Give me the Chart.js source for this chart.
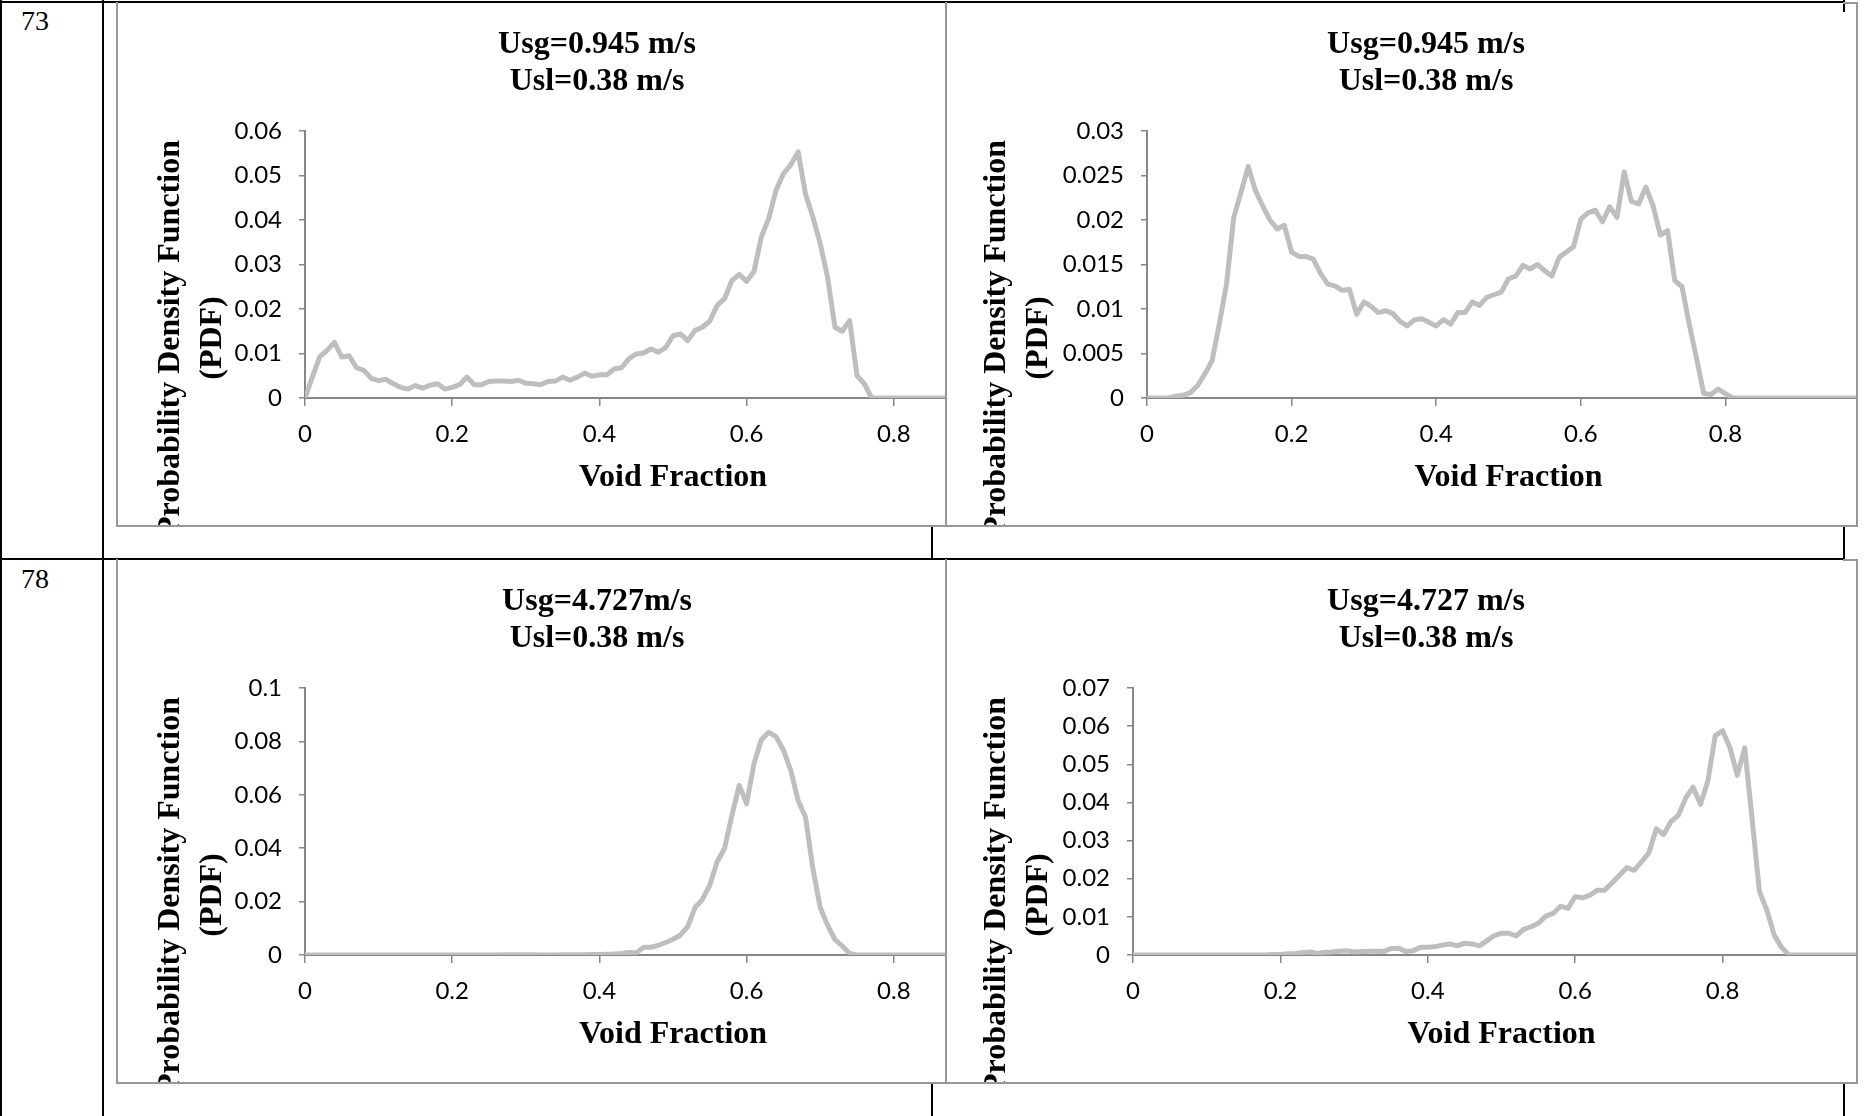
<!DOCTYPE html>
<html>
<head>
<meta charset="utf-8">
<script src="https://cdn.jsdelivr.net/npm/chart.js@4.4.1/dist/chart.umd.min.js"></script>
<style>
  html, body { margin: 0; padding: 0; background: #fff; }
  #page { position: relative; width: 1866px; height: 1116px; overflow: hidden; background: #fff; }
  .ln { position: absolute; background: #000; }
  .gl { position: absolute; background: #989898; z-index: 5; }
  .panel { position: absolute; overflow: hidden; }
  .rowno { position: absolute; font: 28px/28px "Liberation Serif", serif; color: #000; }
</style>
</head>
<body>
<div id="page">
  <!-- table rules -->
  <div class="ln" style="left:0;top:1px;width:1845px;height:2px"></div>
  <div class="ln" style="left:0;top:0;width:2px;height:1116px"></div>
  <div class="ln" style="left:102px;top:0;width:2px;height:1116px"></div>
  <div class="ln" style="left:0;top:558px;width:1845px;height:2px"></div>
  <div class="ln" style="left:931px;top:526px;width:2px;height:34px"></div>
  <div class="ln" style="left:931px;top:1083px;width:2px;height:33px"></div>
  <div class="ln" style="left:1843px;top:0;width:2px;height:12px"></div>
  <div class="ln" style="left:1843px;top:526px;width:2px;height:34px"></div>
  <div class="ln" style="left:1843px;top:1083px;width:2px;height:33px"></div>

  <div class="rowno" style="left:21px;top:7px">73</div>
  <div class="rowno" style="left:21px;top:565px">78</div>

  <div class="panel" style="left:117px;top:3px;width:829px;height:523px"><canvas id="chartA" width="960" height="523"></canvas></div>
  <div class="panel" style="left:946px;top:3px;width:911px;height:523px"><canvas id="chartB" width="960" height="523"></canvas></div>
  <div class="panel" style="left:117px;top:560px;width:829px;height:523px"><canvas id="chartC" width="960" height="523"></canvas></div>
  <div class="panel" style="left:946px;top:560px;width:911px;height:523px"><canvas id="chartD" width="960" height="523"></canvas></div>

  <!-- chart frames -->
  <div class="gl" style="left:116px;top:2px;width:2px;height:525px"></div>
  <div class="gl" style="left:945px;top:2px;width:2px;height:525px"></div>
  <div class="gl" style="left:1856px;top:2px;width:2px;height:525px"></div>
  <div class="gl" style="left:1843px;top:2px;width:15px;height:2px"></div>
  <div class="gl" style="left:116px;top:525px;width:1742px;height:2px"></div>
  <div class="gl" style="left:116px;top:559px;width:2px;height:525px"></div>
  <div class="gl" style="left:945px;top:559px;width:2px;height:525px"></div>
  <div class="gl" style="left:1856px;top:559px;width:2px;height:525px"></div>
  <div class="gl" style="left:1843px;top:559px;width:15px;height:2px"></div>
  <div class="gl" style="left:116px;top:1082px;width:1742px;height:2px"></div>
</div>

<script>
// void fraction bins (x)
const voidFraction = [
  0, 0.01, 0.02, 0.03, 0.04, 0.05, 0.06, 0.07, 0.08, 0.09,
  0.1, 0.11, 0.12, 0.13, 0.14, 0.15, 0.16, 0.17, 0.18, 0.19,
  0.2, 0.21, 0.22, 0.23, 0.24, 0.25, 0.26, 0.27, 0.28, 0.29,
  0.3, 0.31, 0.32, 0.33, 0.34, 0.35, 0.36, 0.37, 0.38, 0.39,
  0.4, 0.41, 0.42, 0.43, 0.44, 0.45, 0.46, 0.47, 0.48, 0.49,
  0.5, 0.51, 0.52, 0.53, 0.54, 0.55, 0.56, 0.57, 0.58, 0.59,
  0.6, 0.61, 0.62, 0.63, 0.64, 0.65, 0.66, 0.67, 0.68, 0.69,
  0.7, 0.71, 0.72, 0.73, 0.74, 0.75, 0.76, 0.77, 0.78, 0.79,
  0.8, 0.81, 0.82, 0.83, 0.84, 0.85, 0.86, 0.87, 0.88, 0.89,
  0.9, 0.91, 0.92, 0.93, 0.94, 0.95, 0.96, 0.97, 0.98, 0.99,
  1
];

// PDF, run 73 (Usg=0.945, Usl=0.38), left chart
const pdfA = [
  0, 0.0047, 0.0093, 0.0107, 0.0125, 0.0092, 0.0095, 0.0068, 0.0062, 0.0044,
  0.0039, 0.0042, 0.0032, 0.0024, 0.0020, 0.0028, 0.0022, 0.0029, 0.0032, 0.0020,
  0.0024, 0.0030, 0.0047, 0.0030, 0.0030, 0.0037, 0.0038, 0.0038, 0.0037, 0.0040,
  0.0033, 0.0032, 0.0030, 0.0037, 0.0038, 0.0047, 0.0040, 0.0047, 0.0056, 0.0049,
  0.0052, 0.0052, 0.0065, 0.0068, 0.0088, 0.0099, 0.0101, 0.0110, 0.0103, 0.0113,
  0.0140, 0.0144, 0.0129, 0.0152, 0.0159, 0.0173, 0.0208, 0.0223, 0.0264, 0.0278,
  0.0262, 0.0284, 0.0362, 0.0403, 0.0467, 0.0504, 0.0524, 0.0553, 0.0459, 0.0407,
  0.0347, 0.0272, 0.0159, 0.0150, 0.0174, 0.0050, 0.0032, 0, 0, 0,
  0, 0, 0, 0, 0, 0, 0, 0, 0, 0,
  0, 0, 0, 0, 0, 0, 0, 0, 0, 0,
  0
];

// PDF, run 73, right chart
const pdfB = [
  0, 0, 0, 0, 0.0002, 0.0003, 0.0006, 0.0014, 0.0027, 0.0042,
  0.0083, 0.0128, 0.0203, 0.0231, 0.0260, 0.0233, 0.0216, 0.0200, 0.0190, 0.0194,
  0.0164, 0.0159, 0.0159, 0.0156, 0.0140, 0.0128, 0.0126, 0.0121, 0.0122, 0.0094,
  0.0108, 0.0103, 0.0096, 0.0098, 0.0095, 0.0086, 0.0081, 0.0088, 0.0089, 0.0085,
  0.0081, 0.0088, 0.0083, 0.0096, 0.0096, 0.0108, 0.0104, 0.0113, 0.0116, 0.0119,
  0.0134, 0.0137, 0.0149, 0.0145, 0.0150, 0.0143, 0.0137, 0.0158, 0.0164, 0.0170,
  0.0201, 0.0208, 0.0211, 0.0198, 0.0215, 0.0203, 0.0254, 0.0221, 0.0218, 0.0237,
  0.0216, 0.0183, 0.0188, 0.0132, 0.0125, 0.0083, 0.0045, 0.0005, 0.0004, 0.0010,
  0.0005, 0, 0, 0, 0, 0, 0, 0, 0, 0,
  0, 0, 0, 0, 0, 0, 0, 0, 0, 0,
  0
];

// PDF, run 78 (Usg=4.727, Usl=0.38), left chart
const pdfC = [
  0, 0, 0, 0, 0, 0, 0, 0, 0, 0,
  0, 0, 0, 0, 0, 0, 0, 0, 0, 0,
  0, 0, 0, 0, 0, 0, 0, 0.0001, 0.0001, 0.0001,
  0.0001, 0.0001, 0, 0, 0, 0.0001, 0.0001, 0.0001, 0.0001, 0.0002,
  0.0002, 0.0003, 0.0004, 0.0006, 0.0009, 0.0008, 0.0029, 0.0029, 0.0036, 0.0047,
  0.0059, 0.0074, 0.0106, 0.0178, 0.0208, 0.0262, 0.0349, 0.0399, 0.0523, 0.0635,
  0.0567, 0.0716, 0.0806, 0.0834, 0.0818, 0.0768, 0.0691, 0.0579, 0.0517, 0.0324,
  0.0178, 0.0112, 0.0058, 0.0034, 0.0006, 0, 0, 0, 0, 0,
  0, 0, 0, 0, 0, 0, 0, 0, 0, 0,
  0, 0, 0, 0, 0, 0, 0, 0, 0, 0,
  0
];

// PDF, run 78, right chart
const pdfD = [
  0, 0, 0, 0, 0, 0, 0, 0, 0, 0,
  0, 0, 0, 0, 0, 0, 0, 0, 0, 0.0001,
  0.0001, 0.0003, 0.0004, 0.0006, 0.0008, 0.0004, 0.0007, 0.0008, 0.0010, 0.0011,
  0.0008, 0.0009, 0.0010, 0.0010, 0.0009, 0.0017, 0.0018, 0.0009, 0.0011, 0.0020,
  0.0020, 0.0022, 0.0026, 0.0029, 0.0024, 0.0031, 0.0029, 0.0024, 0.0037, 0.0051,
  0.0057, 0.0057, 0.0050, 0.0067, 0.0074, 0.0083, 0.0102, 0.0109, 0.0128, 0.0122,
  0.0153, 0.0150, 0.0157, 0.0170, 0.0170, 0.0189, 0.0209, 0.0229, 0.0222, 0.0244,
  0.0268, 0.0331, 0.0316, 0.0350, 0.0366, 0.0412, 0.0440, 0.0395, 0.0456, 0.0575,
  0.0588, 0.0543, 0.0471, 0.0543, 0.0358, 0.0166, 0.0118, 0.0052, 0.0020, 0,
  0, 0, 0, 0, 0, 0, 0, 0, 0, 0,
  0
];

const xTicks = [0, 0.2, 0.4, 0.6, 0.8, 1];
const yTicksA = [0, 0.01, 0.02, 0.03, 0.04, 0.05, 0.06];
const yTicksB = [0, 0.005, 0.01, 0.015, 0.02, 0.025, 0.03];
const yTicksC = [0, 0.02, 0.04, 0.06, 0.08, 0.1];
const yTicksD = [0, 0.01, 0.02, 0.03, 0.04, 0.05, 0.06, 0.07];

const titleA = ['Usg=0.945 m/s', 'Usl=0.38 m/s'];
const titleB = ['Usg=0.945 m/s', 'Usl=0.38 m/s'];
const titleC = ['Usg=4.727m/s', 'Usl=0.38 m/s'];
const titleD = ['Usg=4.727 m/s', 'Usl=0.38 m/s'];
const xTitle = 'Void Fraction';
const yTitle = ['Probability Density Function', '(PDF)'];

const AXIS_GREY = '#878787';
const LINE_GREY = '#bebebe';
const SERIF = '"Liberation Serif", "Times New Roman", serif';
const SANS = 'Lato, "Open Sans", sans-serif';

// rotated two-line y title, placed like the Excel original
const yTitlePlugin = {
    id: 'yTitle',
    afterDraw(chart, args, opts) {
        const ctx = chart.ctx;
        ctx.save();
        ctx.font = 'bold 32px ' + SERIF;
        ctx.fillStyle = '#000';
        ctx.textAlign = 'center';
        ctx.textBaseline = 'middle';
        opts.lines.forEach((line, i) => {
            ctx.save();
            ctx.translate(opts.x[i], opts.y);
            ctx.rotate(-Math.PI / 2);
            ctx.fillText(line, 0, 0);
            ctx.restore();
        });
        ctx.restore();
    }
};

function renderPdfChart(canvasId, pdf, yTicks, title, yWidth, yTitleX) {
    const ctx = document.getElementById(canvasId).getContext('2d');
    const points = voidFraction.map((x, i) => ({ x: x, y: pdf[i] }));

    new Chart(ctx, {
        type: 'line',
        data: {
            datasets: [{
                data: points,
                borderColor: LINE_GREY,
                borderWidth: 5,
                borderJoinStyle: 'round',
                borderCapStyle: 'round',
                pointRadius: 0,
                tension: 0,
                fill: false
            }]
        },
        plugins: [yTitlePlugin],
        options: {
            responsive: false,
            animation: false,
            devicePixelRatio: 1,
            layout: { padding: { left: 36, right: 36, top: 0, bottom: 0 } },
            plugins: {
                legend: { display: false },
                tooltip: { enabled: false },
                title: {
                    display: true,
                    text: title,
                    color: '#000',
                    font: { family: SERIF, size: 32, weight: 'bold', lineHeight: 37 / 32 },
                    padding: { top: 23, bottom: 31 }
                },
                yTitle: { lines: yTitle, x: yTitleX, y: 335 }
            },
            scales: {
                x: {
                    type: 'linear',
                    min: xTicks[0],
                    max: xTicks[xTicks.length - 1],
                    afterBuildTicks: s => { s.ticks = xTicks.map(v => ({ value: v })); },
                    afterFit: s => { s.height = 128; },
                    ticks: {
                        color: '#000',
                        padding: 14,
                        maxRotation: 0,
                        font: { family: SANS, size: 24 },
                        callback: v => String(v)
                    },
                    grid: { drawOnChartArea: false, tickLength: 8, color: AXIS_GREY, lineWidth: 1.5 },
                    border: { color: AXIS_GREY, width: 2 },
                    title: {
                        display: true,
                        text: xTitle,
                        color: '#000',
                        font: { family: SERIF, size: 32, weight: 'bold', lineHeight: 1.2 },
                        padding: { top: 0, bottom: 29 }
                    }
                },
                y: {
                    min: yTicks[0],
                    max: yTicks[yTicks.length - 1],
                    afterBuildTicks: s => { s.ticks = yTicks.map(v => ({ value: v })); },
                    afterFit: s => { s.width = yWidth; },
                    ticks: {
                        color: '#000',
                        padding: 17,
                        font: { family: SANS, size: 24 },
                        callback: v => String(v)
                    },
                    grid: { drawOnChartArea: false, tickLength: 6, color: AXIS_GREY, lineWidth: 1.5 },
                    border: { color: AXIS_GREY, width: 2 }
                }
            }
        }
    });
}

renderPdfChart('chartA', pdfA, yTicksA, titleA, 152, [54, 96]);
renderPdfChart('chartB', pdfB, yTicksB, titleB, 165, [51, 93]);
renderPdfChart('chartC', pdfC, yTicksC, titleC, 152, [54, 96]);
renderPdfChart('chartD', pdfD, yTicksD, titleD, 151, [51, 93]);
</script>
</body>
</html>
